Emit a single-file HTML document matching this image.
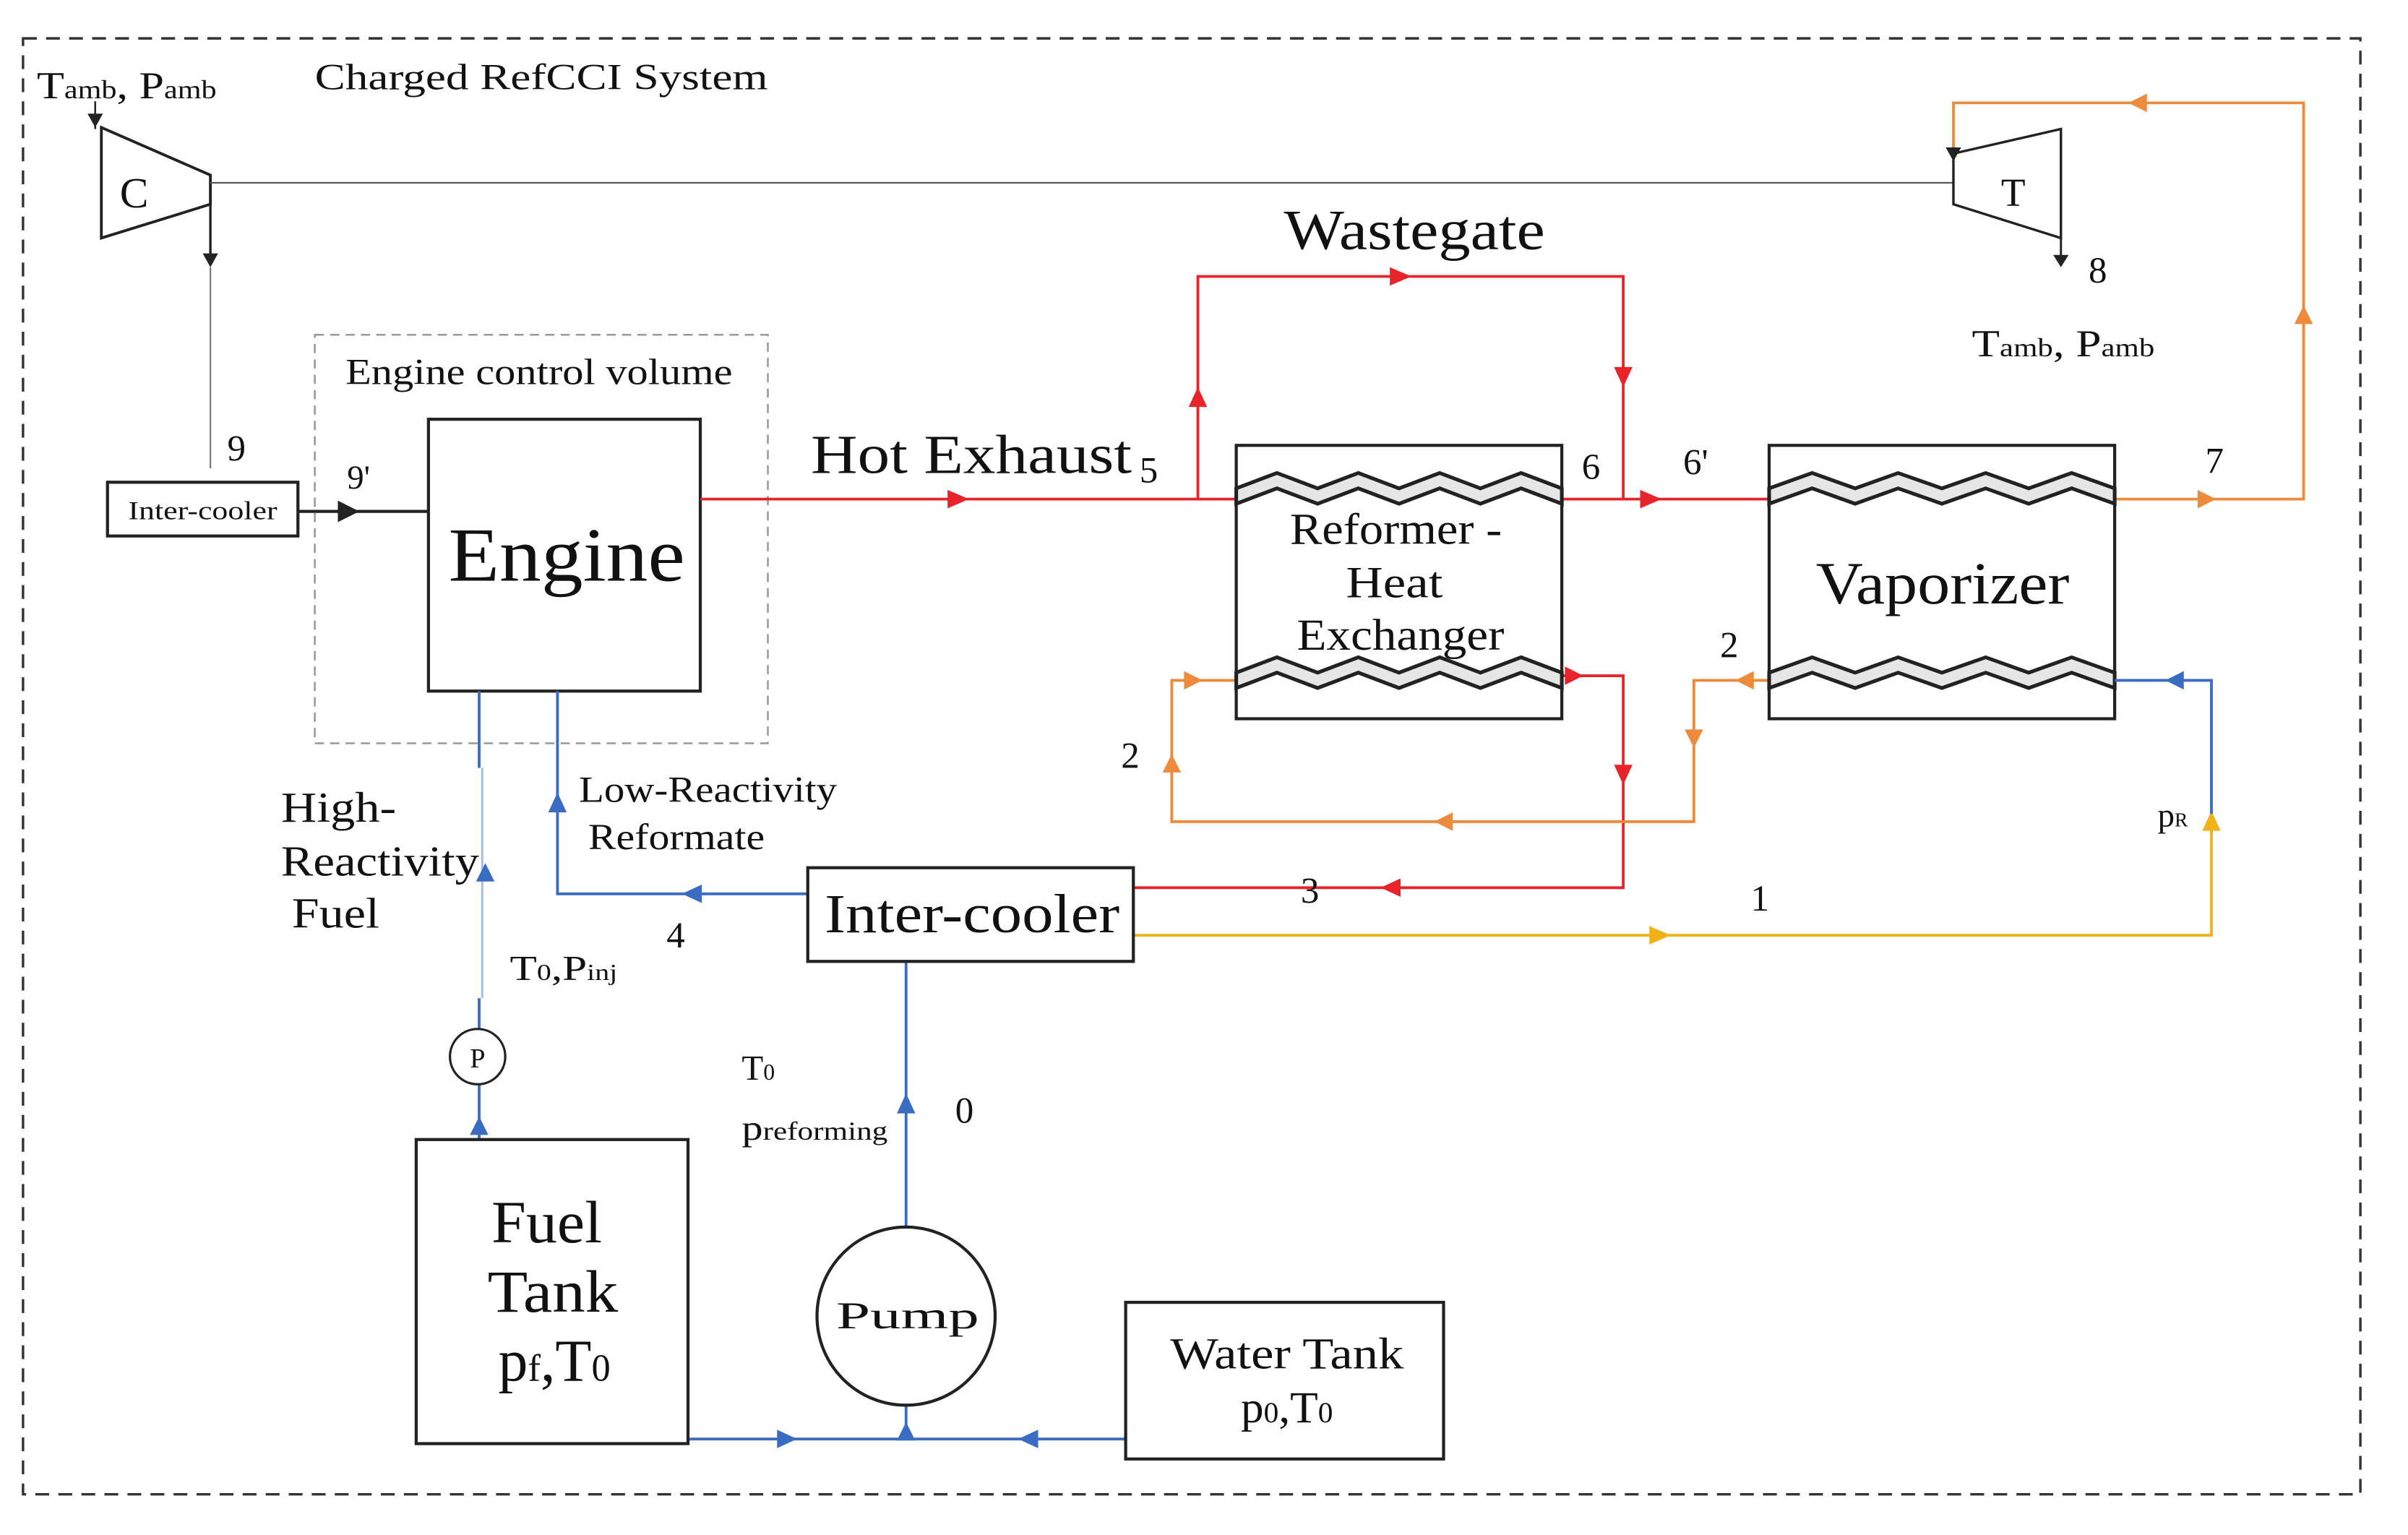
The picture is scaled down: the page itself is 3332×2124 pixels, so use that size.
<!DOCTYPE html>
<html><head><meta charset="utf-8"><style>
html,body{margin:0;padding:0;background:#fff;}
svg{display:block;}
text{font-family:"Liberation Serif",serif;fill:#111;}
</style></head><body>
<svg width="3332" height="2124" viewBox="0 0 1568 999.5" preserveAspectRatio="none" xmlns="http://www.w3.org/2000/svg">
<rect x="0" y="0" width="1568" height="1000" fill="#fff"/>
<rect x="15" y="25" width="1522" height="948" fill="none" stroke="#333" stroke-width="1.6" stroke-dasharray="9,6"/>
<text x="205" y="58" font-size="24" textLength="295" lengthAdjust="spacingAndGlyphs">Charged RefCCI System</text>
<text x="24" y="64" font-size="25" textLength="117" lengthAdjust="spacingAndGlyphs">T<tspan font-size="17">amb</tspan>, P<tspan font-size="17">amb</tspan></text>

<!-- compressor -->
<polygon points="66,83 137,114 137,133 66,155" fill="#fff" stroke="#222" stroke-width="1.8"/>
<text x="78" y="135" font-size="28">C</text>
<line x1="62" y1="66" x2="62" y2="84" stroke="#222" stroke-width="1.2"/>
<path d="M57,74 L67,74 L62,83z" fill="#222"/>
<line x1="137" y1="133" x2="137" y2="172" stroke="#222" stroke-width="1.6"/>
<path d="M132,165 L142,165 L137,174z" fill="#222"/>
<line x1="137" y1="119" x2="1272" y2="119" stroke="#555" stroke-width="1"/>
<line x1="137" y1="174" x2="137" y2="305" stroke="#777" stroke-width="1"/>
<text x="148" y="300" font-size="24">9</text>

<!-- small intercooler -->
<rect x="70" y="314" width="124" height="35" fill="#fff" stroke="#222" stroke-width="2"/>
<text x="132" y="338" font-size="17" text-anchor="middle" textLength="97" lengthAdjust="spacingAndGlyphs">Inter-cooler</text>
<line x1="194" y1="333" x2="279" y2="333" stroke="#222" stroke-width="2"/>
<path d="M220,326 L234,333 L220,340z" fill="#222"/>
<text x="226" y="318" font-size="22">9'</text>

<!-- engine control volume -->
<rect x="205" y="218" width="295" height="266" fill="none" stroke="#999" stroke-width="1.2" stroke-dasharray="6,4"/>
<text x="225" y="250" font-size="24" textLength="252" lengthAdjust="spacingAndGlyphs">Engine control volume</text>
<rect x="279" y="273" width="177" height="177" fill="#fff" stroke="#222" stroke-width="2"/>
<text x="369" y="378" font-size="50" text-anchor="middle" textLength="154" lengthAdjust="spacingAndGlyphs">Engine</text>

<!-- turbine -->
<polygon points="1272,100 1342,84 1342,155 1272,133" fill="#fff" stroke="#222" stroke-width="1.6"/>
<text x="1303" y="134" font-size="26">T</text>
<line x1="1342" y1="155" x2="1342" y2="172" stroke="#222" stroke-width="1.4"/>
<path d="M1337,166 L1347,166 L1342,174z" fill="#222"/>
<text x="1360" y="184" font-size="24">8</text>
<text x="1284" y="232" font-size="25" textLength="119" lengthAdjust="spacingAndGlyphs">T<tspan font-size="17">amb</tspan>, P<tspan font-size="17">amb</tspan></text>

<!-- orange to turbine -->
<polyline points="1378,325 1500,325 1500,67 1272,67 1272,100" stroke="#ee8a3c" stroke-width="1.8" fill="none"/>
<path d="M1267,96 L1277,96 L1272,105z" fill="#222"/>
<g fill="#ee8a3c">
<path d="M1431,319 L1443,325 L1431,331z"/>
<path d="M1494,211 L1500,199 L1506,211z"/>
<path d="M1398,61 L1386,67 L1398,73z"/>
</g>
<text x="1436" y="308" font-size="24">7</text>

<!-- red hot exhaust -->
<g stroke="#e8242a" stroke-width="1.8" fill="none">
<line x1="456" y1="325" x2="805" y2="325"/>
<polyline points="780,325 780,180 1057,180 1057,325"/>
<line x1="1017" y1="325" x2="1152" y2="325"/>
<polyline points="1017,440 1057,440 1057,578 738,578"/>
</g>
<g fill="#e8242a">
<path d="M617,319 L631,325 L617,331z"/>
<path d="M774,265 L780,252 L786,265z"/>
<path d="M905,174 L919,180 L905,186z"/>
<path d="M1051,239 L1063,239 L1057,252z"/>
<path d="M1068,319 L1082,325 L1068,331z"/>
<path d="M1019,434 L1031,440 L1019,446z"/>
<path d="M1051,498 L1063,498 L1057,511z"/>
<path d="M912,572 L899,578 L912,584z"/>
</g>
<text x="528" y="308" font-size="36" textLength="209" lengthAdjust="spacingAndGlyphs">Hot Exhaust</text>
<text x="742" y="314" font-size="24">5</text>
<text x="836" y="162" font-size="37" textLength="170" lengthAdjust="spacingAndGlyphs">Wastegate</text>
<text x="1030" y="312" font-size="24">6</text>
<text x="1096" y="309" font-size="24">6'</text>
<text x="847" y="588" font-size="24">3</text>

<!-- orange loop -->
<polyline points="1152,443 1103,443 1103,535 763,535 763,443 805,443" stroke="#ee8a3c" stroke-width="1.8" fill="none"/>
<g fill="#ee8a3c">
<path d="M1142,437 L1130,443 L1142,449z"/>
<path d="M1097,475 L1109,475 L1103,487z"/>
<path d="M946,529 L934,535 L946,541z"/>
<path d="M757,503 L763,491 L769,503z"/>
<path d="M771,437 L783,443 L771,449z"/>
</g>
<text x="730" y="500" font-size="24">2</text>
<text x="1120" y="428" font-size="24">2</text>

<rect x="805" y="290" width="212" height="178" fill="#fff" stroke="#222" stroke-width="2"/>
<rect x="1152" y="290" width="225" height="178" fill="#fff" stroke="#222" stroke-width="2"/>

<g stroke="#222" stroke-width="2.4" fill="#e6e6e6" stroke-linejoin="miter">
<path d="M805,318 L831.5,308 L858,318 L884.5,308 L911,318 L937.5,308 L964,318 L990.5,308 L1017,318 L1017,328 L990.5,318 L964,328 L937.5,318 L911,328 L884.5,318 L858,328 L831.5,318 L805,328z"/>
<path d="M805,438 L831.5,428 L858,438 L884.5,428 L911,438 L937.5,428 L964,438 L990.5,428 L1017,438 L1017,448 L990.5,438 L964,448 L937.5,438 L911,448 L884.5,438 L858,448 L831.5,438 L805,448z"/>
<path d="M1152,318 L1180,308 L1208,318 L1236,308 L1264.5,318 L1293,308 L1321,318 L1349,308 L1377,318 L1377,328 L1349,318 L1321,328 L1293,318 L1264.5,328 L1236,318 L1208,328 L1180,318 L1152,328z"/>
<path d="M1152,438 L1180,428 L1208,438 L1236,428 L1264.5,438 L1293,428 L1321,438 L1349,428 L1377,438 L1377,448 L1349,438 L1321,448 L1293,438 L1264.5,448 L1236,438 L1208,448 L1180,438 L1152,448z"/>
</g>
<text x="909" y="354" font-size="29" text-anchor="middle" textLength="138" lengthAdjust="spacingAndGlyphs">Reformer -</text>
<text x="908" y="389" font-size="29" text-anchor="middle" textLength="63" lengthAdjust="spacingAndGlyphs">Heat</text>
<text x="912" y="423" font-size="29" text-anchor="middle" textLength="135" lengthAdjust="spacingAndGlyphs">Exchanger</text>
<text x="1265" y="393" font-size="39" text-anchor="middle" textLength="165" lengthAdjust="spacingAndGlyphs">Vaporizer</text>

<!-- yellow -->
<polyline points="738,609 1440,609 1440,530" stroke="#f0b21a" stroke-width="1.8" fill="none"/>
<path d="M1074,603 L1088,609 L1074,615z" fill="#f0b21a"/>
<path d="M1434,541 L1440,528 L1446,541z" fill="#f0b21a"/>
<text x="1405" y="538" font-size="22">p<tspan font-size="13">R</tspan></text>
<text x="1140" y="593" font-size="24">1</text>

<!-- blue -->
<g stroke="#3a6cc4" stroke-width="1.8" fill="none">
<polyline points="1440,530 1440,443 1377,443"/>
<polyline points="526,582 363,582 363,450"/>
<line x1="590" y1="626" x2="590" y2="800"/>
<line x1="448" y1="937" x2="733" y2="937"/>
<line x1="590" y1="915" x2="590" y2="937"/>
<line x1="312" y1="742" x2="312" y2="706"/>
<line x1="312" y1="670" x2="312" y2="650"/>
<line x1="312" y1="500" x2="312" y2="450"/>
</g>
<line x1="314" y1="500" x2="314" y2="650" stroke="#a9bde6" stroke-width="1.4"/>
<g fill="#3a6cc4">
<path d="M1422,437 L1410,443 L1422,449z"/>
<path d="M457,576 L444,582 L457,588z"/>
<path d="M357,529 L363,516 L369,529z"/>
<path d="M584,725 L590,712 L596,725z"/>
<path d="M506,931 L519,937 L506,943z"/>
<path d="M676,931 L663,937 L676,943z"/>
<path d="M584,938 L590,926 L596,938z"/>
<path d="M306,739 L312,727 L318,739z"/>
<path d="M310,574 L316,562 L322,574z"/>
</g>
<text x="377" y="522" font-size="24" textLength="168" lengthAdjust="spacingAndGlyphs">Low-Reactivity</text>
<text x="383" y="553" font-size="24" textLength="115" lengthAdjust="spacingAndGlyphs">Reformate</text>
<text x="434" y="617" font-size="24">4</text>
<text x="183" y="535" font-size="28" textLength="75" lengthAdjust="spacingAndGlyphs">High-</text>
<text x="183" y="570" font-size="28" textLength="129" lengthAdjust="spacingAndGlyphs">Reactivity</text>
<text x="190" y="604" font-size="28" textLength="57" lengthAdjust="spacingAndGlyphs">Fuel</text>
<text x="332" y="638" font-size="23" textLength="70" lengthAdjust="spacingAndGlyphs">T<tspan font-size="15">0</tspan>,P<tspan font-size="15">inj</tspan></text>
<text x="483" y="703" font-size="23">T<tspan font-size="15">0</tspan></text>
<text x="483" y="742" font-size="23" textLength="95" lengthAdjust="spacingAndGlyphs">p<tspan font-size="17">reforming</tspan></text>
<text x="622" y="731" font-size="24">0</text>

<rect x="526" y="565" width="212" height="61" fill="#fff" stroke="#222" stroke-width="2"/>
<text x="633" y="607" font-size="36" text-anchor="middle" textLength="192" lengthAdjust="spacingAndGlyphs">Inter-cooler</text>

<circle cx="311" cy="688" r="18" fill="#fff" stroke="#222" stroke-width="1.5"/>
<text x="311" y="695" font-size="18" text-anchor="middle">P</text>

<circle cx="590" cy="857" r="58" fill="#fff" stroke="#222" stroke-width="2"/>
<text x="591" y="865" font-size="25" text-anchor="middle" textLength="93" lengthAdjust="spacingAndGlyphs">Pump</text>

<rect x="271" y="742" width="177" height="198" fill="#fff" stroke="#222" stroke-width="2"/>
<text x="356" y="809" font-size="39" text-anchor="middle" textLength="72" lengthAdjust="spacingAndGlyphs">Fuel</text>
<text x="360" y="854" font-size="39" text-anchor="middle" textLength="85" lengthAdjust="spacingAndGlyphs">Tank</text>
<text x="361" y="899" font-size="39" text-anchor="middle" textLength="73" lengthAdjust="spacingAndGlyphs">p<tspan font-size="25">f</tspan>,T<tspan font-size="25">0</tspan></text>

<rect x="733" y="848" width="207" height="102" fill="#fff" stroke="#222" stroke-width="2"/>
<text x="838" y="891" font-size="29" text-anchor="middle" textLength="152" lengthAdjust="spacingAndGlyphs">Water Tank</text>
<text x="838" y="926" font-size="29" text-anchor="middle" textLength="60" lengthAdjust="spacingAndGlyphs">p<tspan font-size="19">0</tspan>,T<tspan font-size="19">0</tspan></text>
</svg>
</body></html>
